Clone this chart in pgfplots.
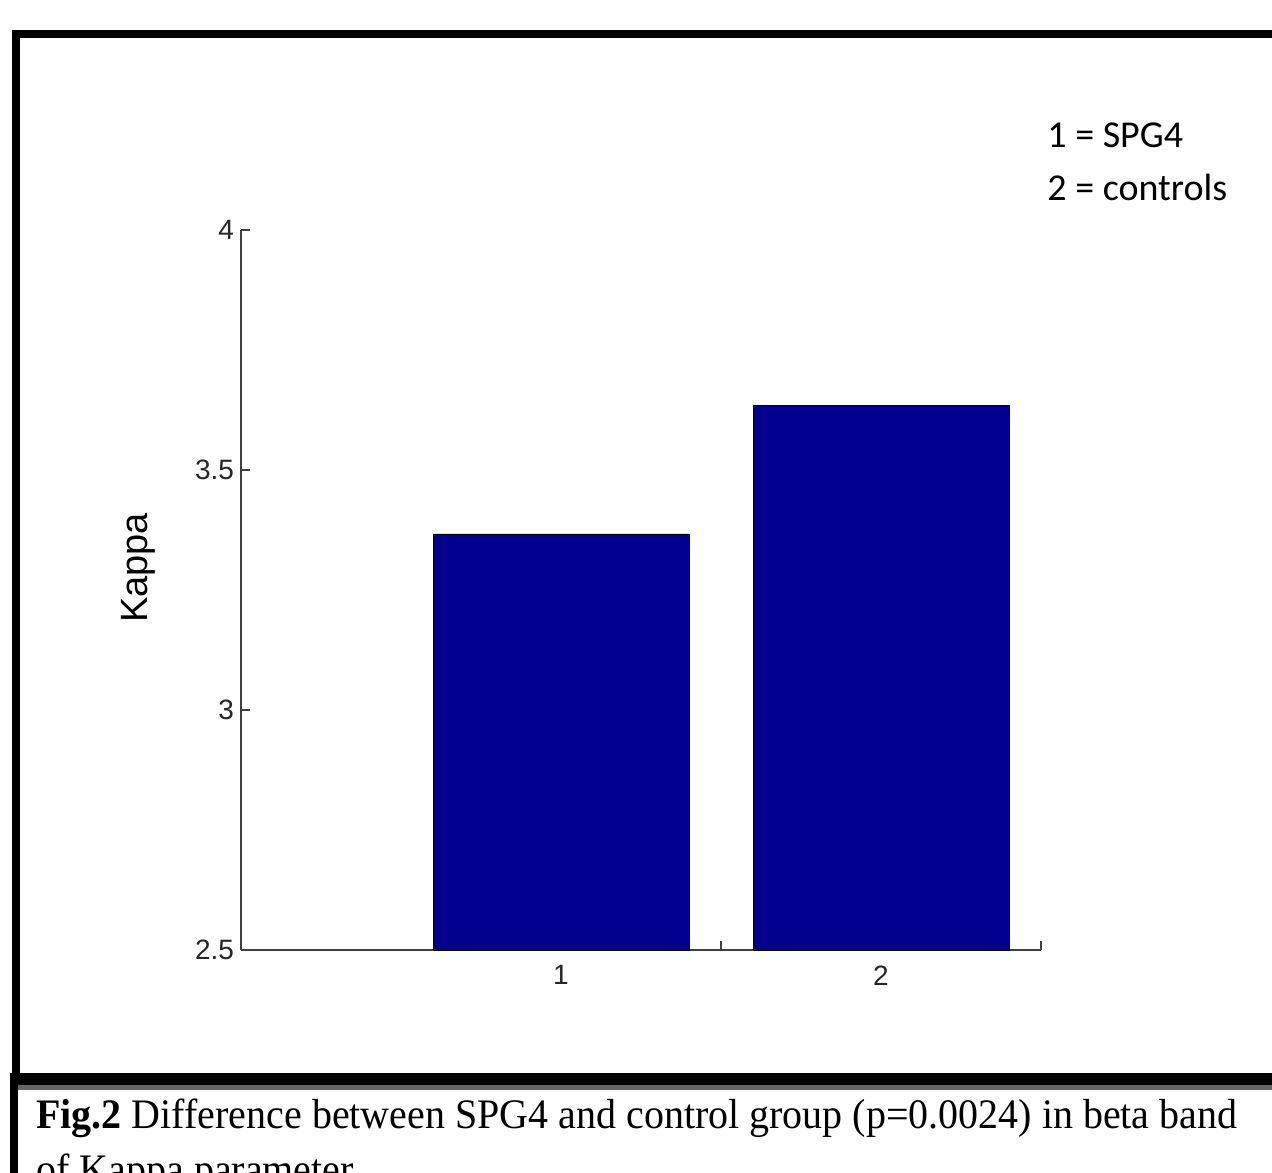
\documentclass[border=0pt]{standalone}
\usepackage{pgfplots}
\pgfplotsset{compat=1.18}
\usepackage{fontspec}
\setmainfont{Liberation Serif}
\newfontfamily\arial{Liberation Sans}
\newfontfamily\calibri{Carlito}
\definecolor{barblue}{RGB}{0,0,140}
\begin{document}
\begin{tikzpicture}
\useasboundingbox (0,0) rectangle (636pt,-586pt);
\begin{scope}
\clip (0,0) rectangle (636pt,-586pt);
\begin{scope}[x=0.5pt,y=-0.5pt]
\fill[black] (12,30) rectangle (1280,38);
\fill[black] (12,30) rectangle (20,1085);
\fill[black] (10,1073) rectangle (1280,1085);
\fill[black!60] (18,1085) rectangle (1280,1090);
\fill[black] (10,1073) rectangle (18,1200);
\node[anchor=base west, font=\fontsize{21pt}{27pt}\selectfont, inner sep=0pt, xscale=0.952] at (36,1128) {\textbf{Fig.2} Difference between SPG4 and control group (p=0.0024) in beta band};
\node[anchor=base west, font=\fontsize{21pt}{27pt}\selectfont, inner sep=0pt, xscale=0.952] at (36,1183) {of Kappa parameter};
\node[anchor=base west, font=\calibri\fontsize{19pt}{23pt}\selectfont, inner sep=0pt] at (1047,147) {1 = SPG4};
\node[anchor=base west, font=\calibri\fontsize{19pt}{23pt}\selectfont, inner sep=0pt] at (1047,200) {2 = controls};
\node[rotate=90, font=\arial\fontsize{19pt}{23pt}\selectfont, inner sep=0pt] at (138,568) {Kappa};
\end{scope}
\end{scope}
\begin{axis}[
  at={(120.5pt,-475pt)}, anchor=south west,
  scale only axis, width=400pt, height=360pt,
  xmin=0, xmax=2.5, ymin=2.5, ymax=4,
  axis lines*=left,
  axis line style={-, line width=0.9pt, black!75},
  tick style={line width=0.9pt, black!75},
  tick align=inside,
  major tick length=4.5pt,
  xtick={1,2}, xticklabels={1,2},
  extra x ticks={1.5,2.5}, extra x tick labels={},
  ytick={2.5,3,3.5,4}, yticklabels={2.5,3,3.5,4},
  tick label style={font=\arial\fontsize{14pt}{17pt}\selectfont, text=black!85},
  xticklabel style={yshift=-4.3pt},
  /pgf/number format/assume math mode=true,
  clip=true,
]
\addplot[ybar, bar width=0.8, bar shift=0pt, fill=barblue, draw=black, line width=0.3pt] coordinates {(1,3.367) (2,3.635)};
\end{axis}
\end{tikzpicture}
\end{document}
